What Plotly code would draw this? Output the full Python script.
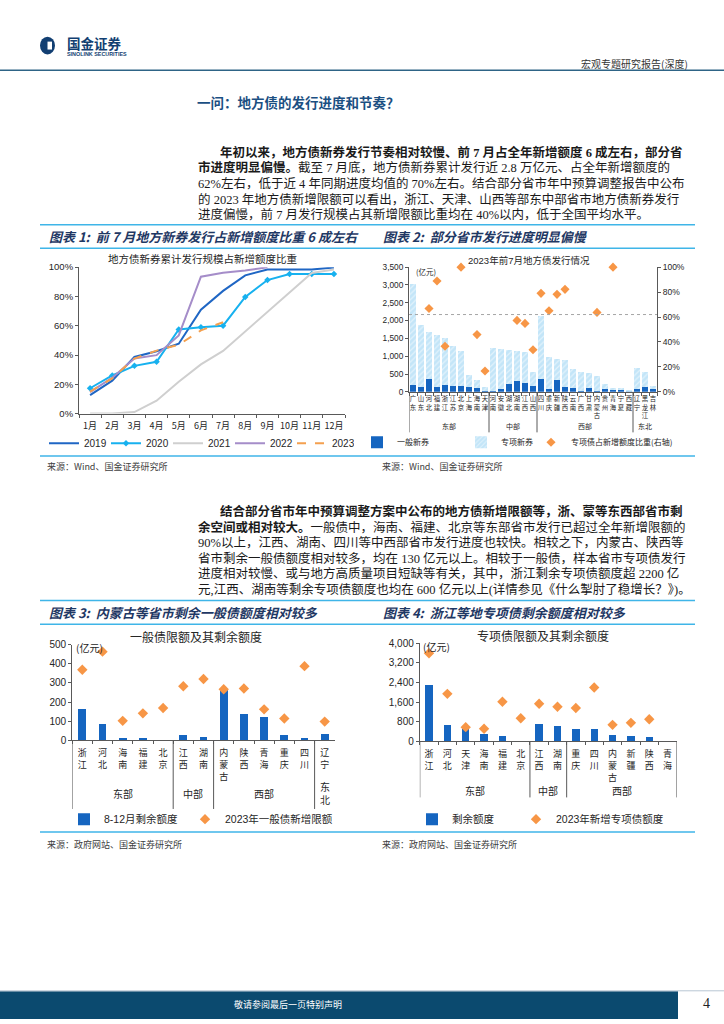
import plotly.graph_objects as go

W, H = 724, 1024
def px(x): return x / W
def py(y): return 1 - y / H

CJK = "Noto Sans CJK SC"
LAT = "Liberation Sans, Noto Sans CJK SC"
BODY = "Liberation Serif, Noto Sans CJK SC"

# ---------------- data ----------------
months = ["1月", "2月", "3月", "4月", "5月", "6月", "7月", "8月", "9月", "10月", "11月", "12月"]
r2019 = [12.6, 22.5, 38.7, 42.6, 47.7, 71.0, 83.8, 94.4, 98.4, 98.4, 98.4, 99.8]
r2020 = [17.3, 26.0, 32.6, 35.4, 57.4, 59.0, 60.0, 79.7, 91.2, 95.3, 95.3, 95.3]
r2021 = [0.0, 0.0, 1.0, 8.8, 21.8, 33.6, 42.8, 56.0, 69.0, 82.6, 96.0, 98.4]
r2022 = [14.6, 24.5, 37.6, 39.9, 53.4, 93.5, 96.2, 97.7, 100.0]
r2023 = [15.0, 24.0, 37.6, 43.0, 47.0, 56.8, 62.4]

provinces = ["广东", "山东", "河北", "福建", "浙江", "江苏", "北京", "上海", "海南", "天津",
             "河南", "安徽", "湖北", "湖南", "江西", "山西",
             "四川", "重庆", "新疆", "陕西", "云南", "广西", "甘肃", "内蒙古", "贵州", "青海", "宁夏", "西藏",
             "辽宁", "黑龙江", "吉林"]
general_new = [200, 135, 365, 125, 200, 155, 165, 130, 95, 30,
               10, 75, 210, 290, 235, 160,
               355, 85, 320, 135, 110, 10, 100, 10, 90, 55, 55, 10,
               65, 140, 65]
special_new = [2840, 1755, 1310, 1465, 1325, 1130, 980, 345, 250, 100,
               1220, 1135, 965, 850, 885, 390,
               1770, 895, 610, 750, 525, 550, 440, 430, 125, 55, 45, 45,
               590, 420, 95]
special_ratio = [None, None, 66.8, 88.9, 36.6, None, 100.0, None, 45.9, 16.7,
                 None, None, None, 57.3, 54.9, 33.7,
                 79.0, 65.0, 78.2, 82.2, None, None, None, 63.7, None, 100.0, None, None,
                 None, None, None]
national_avg_ratio = 62.0
groups2 = [("东部", 10), ("中部", 6), ("西部", 12), ("东北", 3)]

g_prov = ["浙江", "河北", "海南", "福建", "北京", "江西", "湖南", "内蒙古", "陕西", "青海", "重庆", "四川", "辽宁"]
g_remain = [164, 88, 10, 10, 0, 29, 15, 267, 140, 124, 28, 12, 33]
g_limit = [369, 464, 102, 141, 169, 283, 321, 267, 271, 162, 114, 388, 98]
groups3 = [("东部", 5), ("中部", 2), ("西部", 5), ("东<br>北", 1)]

s_prov = ["浙江", "河北", "天津", "海南", "福建", "北京", "江西", "湖南", "重庆", "四川", "内蒙古", "新疆", "陕西", "青海"]
s_remain = [2316, 660, 512, 310, 215, 0, 714, 633, 498, 485, 270, 202, 189, 0]
s_limit = [3596, 1939, 579, 512, 1616, 943, 1535, 1414, 1360, 2195, 673, 754, 902, None]
groups4 = [("东部", 6), ("中部", 2), ("西部", 6)]

para1 = [
    "<b>年初以来，地方债新券发行节奏相对较慢、前 7 月占全年新增额度 6 成左右，部分省</b>",
    "<b>市进度明显偏慢。</b>截至 7 月底，地方债新券累计发行近 2.8 万亿元、占全年新增额度的",
    "62%左右，低于近 4 年同期进度均值的 70%左右。结合部分省市年中预算调整报告中公布",
    "的 2023 年地方债新增限额可以看出，浙江、天津、山西等部东中部省市地方债新券发行",
    "进度偏慢，前 7 月发行规模占其新增限额比重均在 40%以内，低于全国平均水平。",
]
para2 = [
    "<b>结合部分省市年中预算调整方案中公布的地方债新增限额等，浙、蒙等东西部省市剩</b>",
    "<b>余空间或相对较大。</b>一般债中，海南、福建、北京等东部省市发行已超过全年新增限额的",
    "90%以上，江西、湖南、四川等中西部省市发行进度也较快。相较之下，内蒙古、陕西等",
    "省市剩余一般债额度相对较多，均在 130 亿元以上。相较于一般债，样本省市专项债发行",
    "进度相对较慢、或与地方高质量项目短缺等有关，其中，浙江剩余专项债额度超 2200 亿",
    "元,江西、湖南等剩余专项债额度也均在 600 亿元以上(详情参见《什么掣肘了稳增长？》)。",
]

def vert(s):
    return "<br>".join(list(s))

# ---------------- colors ----------------
C2019 = "#1f66c4"
C2020 = "#17b1ef"
C2021 = "#cfcfcf"
C2022 = "#a58dc9"
C2023 = "#f4a04f"
DARKBLUE = "#1565c0"
LIGHTBLUE = "#c3e5f8"
ORANGE = "#f79646"
AX = "#595959"
RULE = "#3fb5e8"

fig = go.Figure()

# chart 1 lines
fig.add_trace(go.Scatter(x=months[:len(r2019)], y=r2019, name="2019", mode="lines",
                         line=dict(color=C2019, width=2), xaxis="x", yaxis="y", legend="legend"))
fig.add_trace(go.Scatter(x=months[:len(r2020)], y=r2020, name="2020", mode="lines+markers",
                         line=dict(color=C2020, width=2), marker=dict(symbol="diamond", size=5, color=C2020),
                         xaxis="x", yaxis="y", legend="legend"))
fig.add_trace(go.Scatter(x=months[:len(r2021)], y=r2021, name="2021", mode="lines",
                         line=dict(color=C2021, width=2), xaxis="x", yaxis="y", legend="legend"))
fig.add_trace(go.Scatter(x=months[:len(r2022)], y=r2022, name="2022", mode="lines",
                         line=dict(color=C2022, width=2), xaxis="x", yaxis="y", legend="legend"))
fig.add_trace(go.Scatter(x=months[:len(r2023)], y=r2023, name="2023", mode="lines",
                         line=dict(color=C2023, width=2, dash="dash"), xaxis="x", yaxis="y", legend="legend"))

# chart 2 bars
fig.add_trace(go.Bar(x=provinces, y=general_new, name="一般新券", marker=dict(color=DARKBLUE, line=dict(width=0)),
                     width=0.7, xaxis="x2", yaxis="y2", legend="legend2", legendwidth=59))
fig.add_trace(go.Bar(x=provinces, y=special_new, name="专项新券",
                     marker=dict(color=LIGHTBLUE, line=dict(width=0),
                                 pattern=dict(shape="/", fillmode="overlay", fgcolor="white", size=4, solidity=0.3)),
                     width=0.7, xaxis="x2", yaxis="y2", legend="legend2", legendwidth=25))
fig.add_trace(go.Scatter(x=provinces, y=special_ratio, name="专项债占新增额度比重(右轴)", mode="markers",
                         marker=dict(symbol="diamond", size=7, color=ORANGE), cliponaxis=False,
                         xaxis="x2", yaxis="y3", legend="legend2"))

# chart 3
fig.add_trace(go.Bar(x=g_prov, y=g_remain, name="8-12月剩余额度", marker=dict(color=DARKBLUE, line=dict(width=0)),
                     width=0.38, xaxis="x3", yaxis="y4", legend="legend3", legendwidth=76))
fig.add_trace(go.Scatter(x=g_prov, y=g_limit, name="2023年一般债新增限额", mode="markers",
                         marker=dict(symbol="diamond", size=8, color=ORANGE), cliponaxis=False,
                         xaxis="x3", yaxis="y4", legend="legend3"))

# chart 4
fig.add_trace(go.Bar(x=s_prov, y=s_remain, name="剩余额度", marker=dict(color=DARKBLUE, line=dict(width=0)),
                     width=0.4, xaxis="x4", yaxis="y5", legend="legend4", legendwidth=59))
fig.add_trace(go.Scatter(x=s_prov, y=s_limit, name="2023年新增专项债额度", mode="markers",
                         marker=dict(symbol="diamond", size=8, color=ORANGE), cliponaxis=False,
                         xaxis="x4", yaxis="y5", legend="legend4"))

def xax(domain, anchor, n, ticktext=None, size=9, standoff=3):
    d = dict(domain=domain, anchor=anchor, type="category", range=[-0.5, n - 0.5],
             showline=True, linecolor=AX, linewidth=1, ticks="outside", tickson="boundaries",
             ticklen=3, tickcolor=AX, showgrid=False, zeroline=False, fixedrange=True,
             tickfont=dict(family=CJK, size=size, color="#262626"), tickangle=0,
             ticklabelstandoff=standoff)
    if ticktext is not None:
        d["tickmode"] = "array"
        d["tickvals"] = list(range(n))
        d["ticktext"] = ticktext
    return d

def yax(domain, anchor, rng, dtick, size=9.5, fmt=None, suffix=None, side="left", overlaying=None, showline=True):
    d = dict(domain=domain, anchor=anchor, range=rng, dtick=dtick, showline=showline, linecolor=AX,
             linewidth=1, ticks="outside", ticklen=3, tickcolor=AX, showgrid=False, zeroline=False,
             tickfont=dict(family=LAT, size=size, color="#262626"), side=side, fixedrange=True)
    if fmt: d["tickformat"] = fmt
    if suffix: d["ticksuffix"] = suffix
    if overlaying:
        d["overlaying"] = overlaying
        d.pop("domain")
    return d

def leg(x, y, size, family=LAT, **kw):
    d = dict(x=px(x), y=py(y), xanchor="left", yanchor="middle", orientation="h", traceorder="normal",
             font=dict(family=family, size=size, color="#262626"), bgcolor="rgba(0,0,0,0)")
    d.update(kw)
    return d

fig.update_layout(
    width=W, height=H, margin=dict(l=0, r=0, t=0, b=0), autosize=False,
    paper_bgcolor="white", plot_bgcolor="rgba(0,0,0,0)", barmode="stack", showlegend=True,
    xaxis=xax([px(79), px(345)], "y", 12, size=9, standoff=4),
    yaxis=yax([py(412), py(264)], "x", [0, 100], 20, size=9.5, suffix="%"),
    xaxis2=xax([px(409), px(657)], "y2", len(provinces), [vert(p) for p in provinces], size=6.4, standoff=1),
    yaxis2=yax([py(390), py(264)], "x2", [0, 3500], 500, size=8.3, fmt=","),
    yaxis3=yax(None, "x2", [0, 100], 20, size=8.5, suffix="%", side="right", overlaying="y2"),
    xaxis3=xax([px(72.2), px(334.8)], "y4", len(g_prov), [vert(p) for p in g_prov], size=9, standoff=4),
    yaxis4=yax([py(742.3), py(645.7)], "x3", [0, 500], 100, size=10),
    xaxis4=xax([px(419.8), px(676.8)], "y5", len(s_prov), [vert(p) for p in s_prov], size=9, standoff=4),
    yaxis5=yax([py(743.3), py(644.3)], "x4", [0, 4000], 800, size=10, fmt=","),
    legend=leg(44, 442, 10, entrywidth=17, entrywidthmode="pixels"),
    legend2=leg(357, 441, 8, family=CJK),
    legend3=leg(64, 822, 10.5),
    legend4=leg(412, 822, 10.5),
)

shapes = []
ann = []

def text(x, y, s, size=10, color="#222222", family=CJK, anchor="left"):
    ann.append(dict(x=px(x), y=py(y), xref="paper", yref="paper", text=s,
                    showarrow=False, xanchor=anchor, yanchor="middle",
                    font=dict(size=size, color=color, family=family)))

def hline(x0, x1, y, color, width=1.5, dash=None):
    shapes.append(dict(type="line", xref="paper", yref="paper", x0=px(x0), x1=px(x1), y0=py(y), y1=py(y),
                       line=dict(color=color, width=width, dash=dash)))

# header
shapes.append(dict(type="circle", xref="paper", yref="paper", x0=px(40), x1=px(55), y0=py(49), y1=py(31),
                   fillcolor="#123f72", line=dict(width=0)))
shapes.append(dict(type="rect", xref="paper", yref="paper", x0=px(47.5), x1=px(52), y0=py(44), y1=py(36),
                   fillcolor="white", line=dict(width=0)))
text(65, 37.5, "<b>国金证券</b>", size=13.5, color="#123f72")
text(65, 49, "<b>SINOLINK SECURITIES</b>", size=5.4, color="#123f72", family=LAT)
text(690, 58, "宏观专题研究报告(深度)", size=10, color="#333333", anchor="right")
hline(0, 724, 65, "#2e6486", width=1.5)

# section title
text(195, 97, "<b>一问：地方债的发行进度和节奏？</b>", size=13.5, color="#1b4f82")

# paragraphs
for i, line in enumerate(para1):
    text(218 if i == 0 else 196, 148 + 15.75 * i, line, size=12.5, color="#1a1a1a", family=BODY)
for i, line in enumerate(para2):
    text(218 if i == 0 else 196, 511 + 15.75 * i, line, size=12.5, color="#1a1a1a", family=BODY)

# chart block rules
for (yt, yh, yb) in [(221, 245, 455), (601, 625, 835)]:
    hline(40, 695, yt, RULE)
    hline(40, 695, yh, RULE)
    hline(40, 695, yb, RULE)

TITLEC = "#1f3864"
text(47, 233, "<b><i>图表 1:  前 7 月地方新券发行占新增额度比重 6 成左右</i></b>", size=13, color=TITLEC)
text(381, 233, "<b><i>图表 2:  部分省市发行进度明显偏慢</i></b>", size=13, color=TITLEC)
text(47, 613, "<b><i>图表 3:  内蒙古等省市剩余一般债额度相对较多</i></b>", size=13, color=TITLEC)
text(381, 613, "<b><i>图表 4:  浙江等地专项债剩余额度相对较多</i></b>", size=13, color=TITLEC)

# plot titles
text(203, 255, "地方债新券累计发行规模占新增额度比重", size=10.5, color="#262626", anchor="center")
text(529, 257.5, "2023年前7月地方债发行情况", size=9.5, color="#262626", family=LAT, anchor="center")
text(196, 637.5, "一般债限额及其剩余额度", size=12, color="#262626", anchor="center")
text(542.5, 636, "专项债限额及其剩余额度", size=12, color="#262626", anchor="center")

# unit labels
text(414, 268, "(亿元)", size=7.5, color="#262626")
text(74, 648, "(亿元)", size=10, color="#262626")
text(421, 647, "(亿元)", size=10, color="#262626")

# region separators and labels
def regions(groups, xref, y_top, y_bot, y_lab, size, right_edge=False):
    start = 0
    bounds = [-0.5]
    for name, n in groups:
        ann.append(dict(x=start + (n - 1) / 2, y=py(y_lab), xref=xref, yref="paper", text=name, showarrow=False,
                        xanchor="center", yanchor="middle", font=dict(size=size, color="#262626", family=CJK)))
        start += n
        bounds.append(start - 0.5)
    if not right_edge:
        bounds = bounds[:-1]
    for b in bounds:
        shapes.append(dict(type="line", xref=xref, yref="paper", x0=b, x1=b, y0=py(y_top), y1=py(y_bot),
                           line=dict(color=AX, width=1)))

regions(groups2, "x2", 390, 431, 425, 7)
regions(groups3, "x3", 742.3, 811.7, 796, 10)
regions(groups4, "x4", 743.3, 800, 793, 10, right_edge=True)

# national average dotted line (chart 2)
shapes.append(dict(type="line", xref="x2 domain", yref="y3", x0=0, x1=1, y0=national_avg_ratio,
                   y1=national_avg_ratio, line=dict(color="#a6a6a6", width=1, dash="dot")))

# sources
text(45, 466, "来源：Wind、国金证券研究所", size=9, color="#404040")
text(380, 466, "来源：Wind、国金证券研究所", size=9, color="#404040")
text(45, 848, "来源：政府网站、国金证券研究所", size=9, color="#404040")
text(380, 848, "来源：政府网站、国金证券研究所", size=9, color="#404040")

# footer
shapes.append(dict(type="rect", xref="paper", yref="paper", x0=0, x1=px(678), y0=0, y1=py(996),
                   fillcolor="#0b4a6f", line=dict(width=0)))
hline(0, 724, 995.5, "#b8c7d3", width=1)
text(288, 1009, "敬请参阅最后一页特别声明", size=9, color="white", anchor="center")
text(706, 1008, "4", size=14, color="#222222", family="Liberation Serif", anchor="center")

fig.update_layout(shapes=shapes, annotations=ann)

fig.write_html("out.html", config={"displayModeBar": False},
               post_script="document.body.style.margin='0';document.body.style.overflow='hidden';")
